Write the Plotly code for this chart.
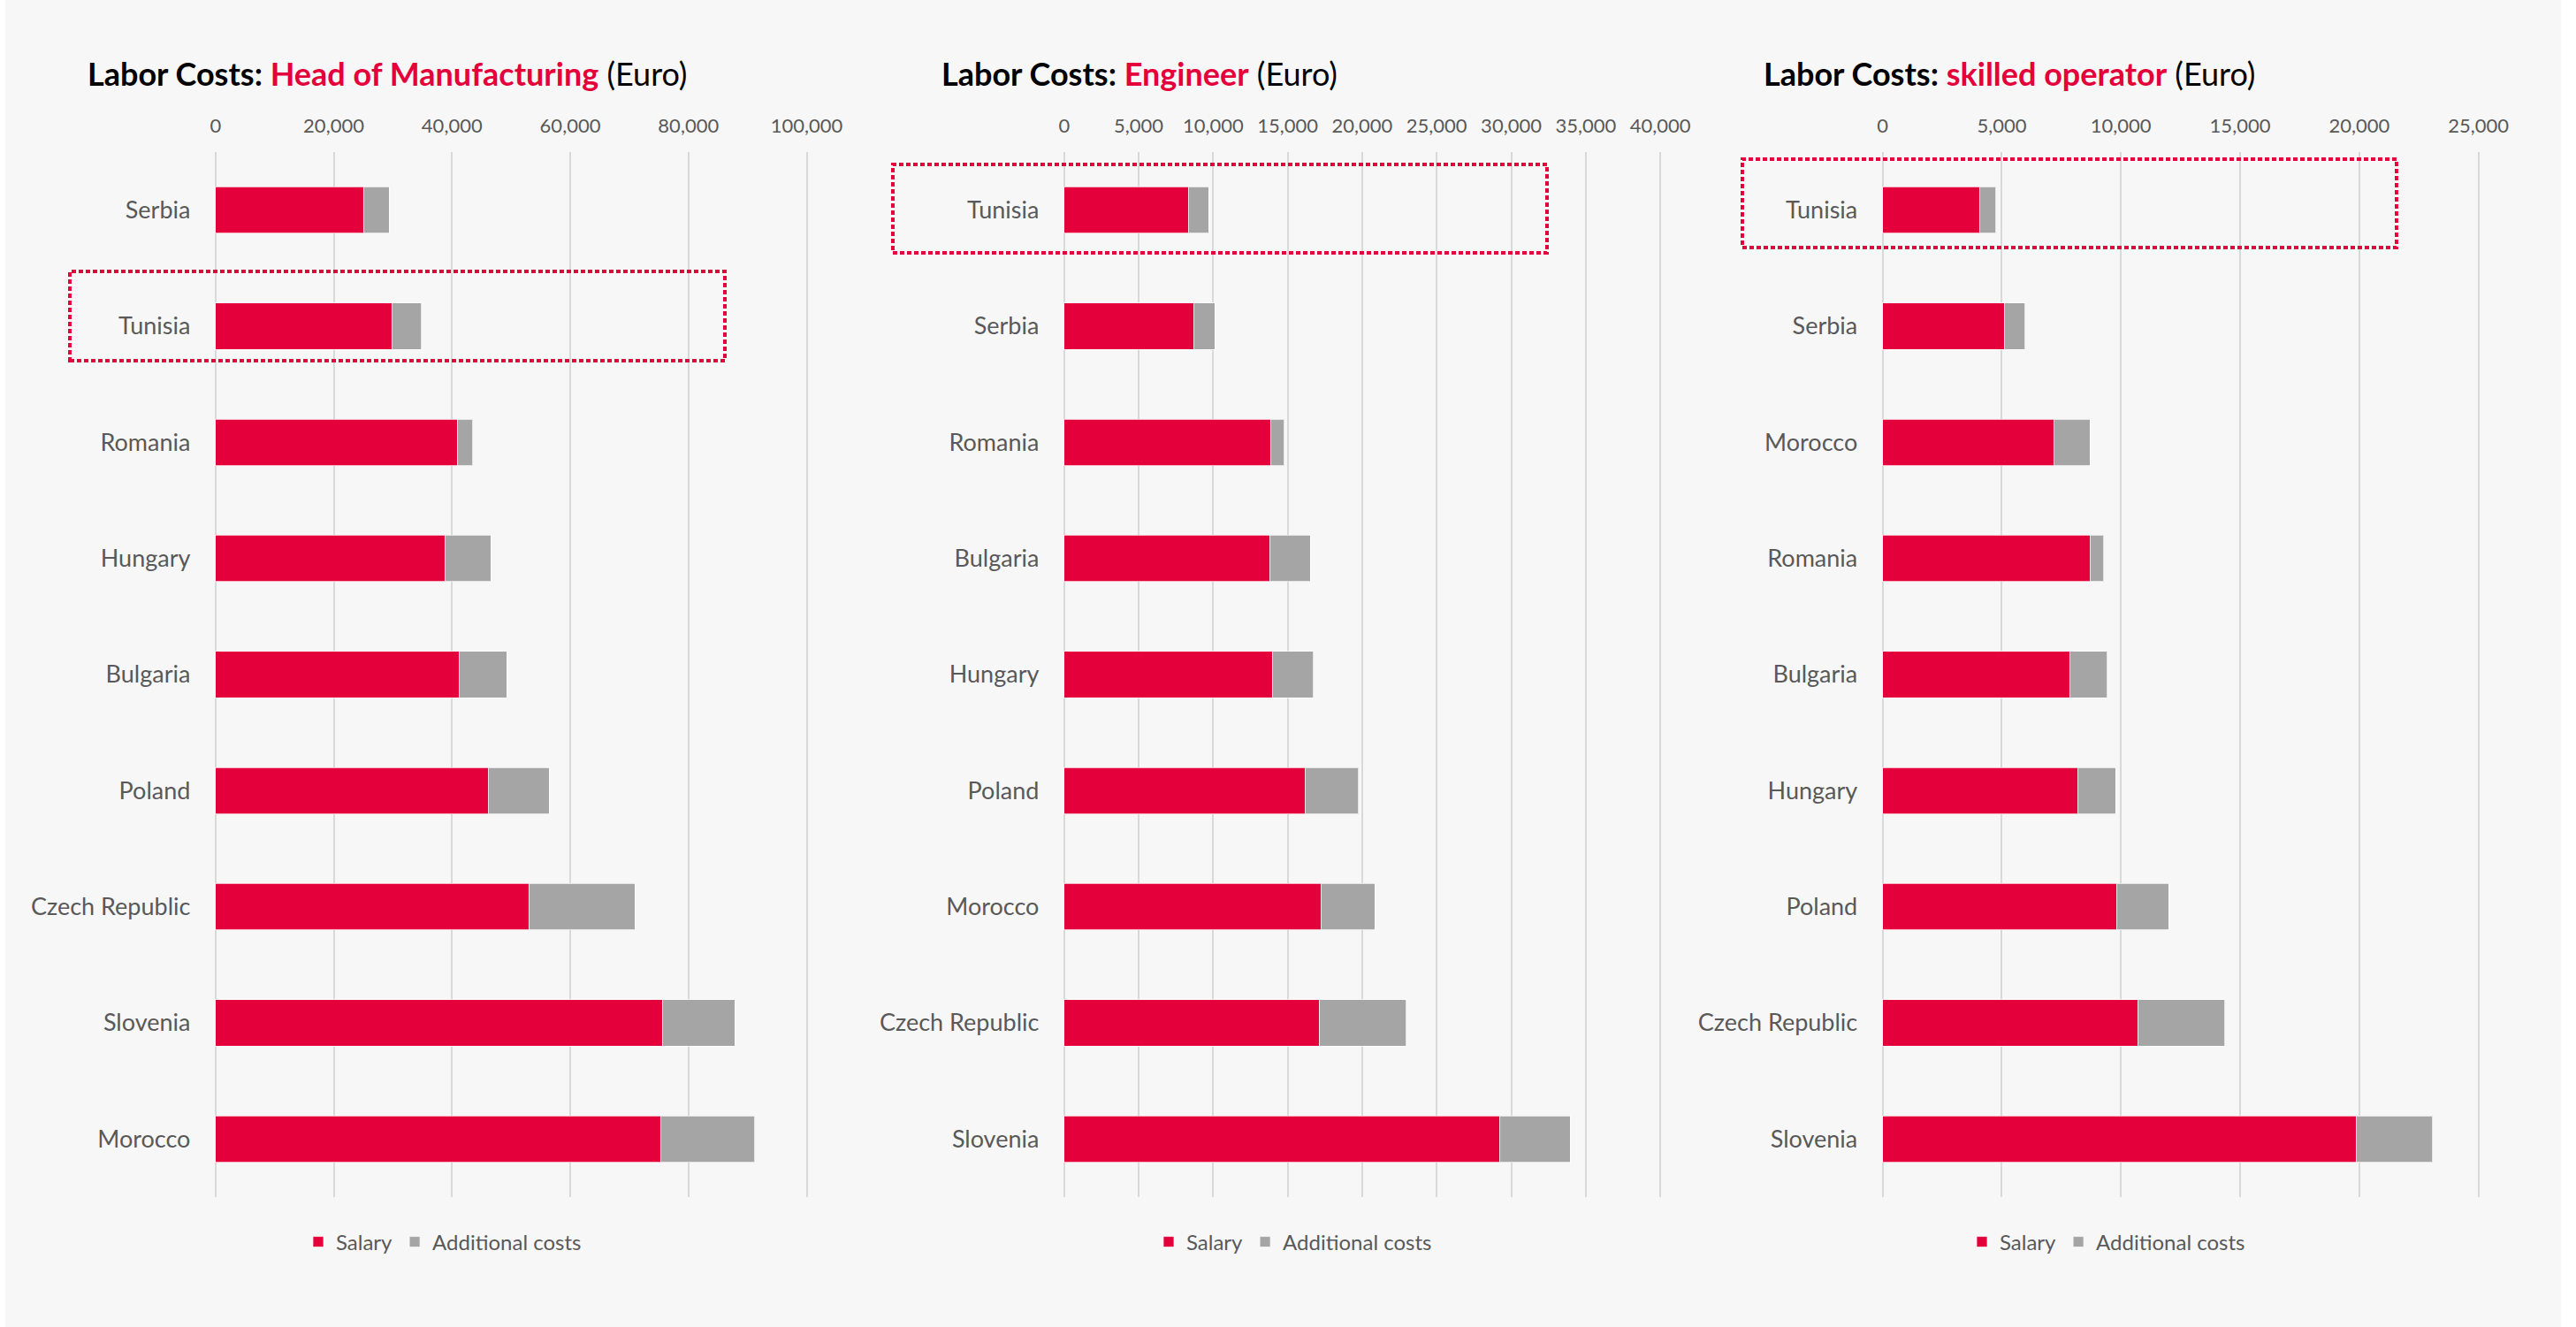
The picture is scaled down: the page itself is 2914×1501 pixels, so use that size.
import plotly.graph_objects as go

W, H = 2914, 1501
RED = "#E4003A"
GREY = "#A5A5A5"
TXT = "#595959"
FONT = "Lato"

# ---------------- data ----------------
hm_countries = ["Serbia", "Tunisia", "Romania", "Hungary", "Bulgaria", "Poland",
                "Czech Republic", "Slovenia", "Morocco"]
hm_salary = [25100, 29900, 41000, 38900, 41200, 46100, 53100, 75700, 75300]
hm_additional = [4250, 4950, 2550, 7650, 8050, 10350, 17850, 12150, 15900]

eng_countries = ["Tunisia", "Serbia", "Romania", "Bulgaria", "Hungary", "Poland",
                 "Morocco", "Czech Republic", "Slovenia"]
eng_salary = [8330, 8700, 13890, 13820, 14000, 16150, 17220, 17150, 29220]
eng_additional = [1370, 1410, 890, 2700, 2740, 3590, 3630, 5810, 4740]

op_countries = ["Tunisia", "Serbia", "Morocco", "Romania", "Bulgaria", "Hungary",
                "Poland", "Czech Republic", "Slovenia"]
op_salary = [4070, 5120, 7190, 8710, 7870, 8190, 9820, 10730, 19880]
op_additional = [680, 860, 1510, 560, 1560, 1580, 2190, 3630, 3190]

titles = ["Head of Manufacturing", "Engineer", "skilled operator"]
axis_max = [100000, 40000, 25000]
axis_dtick = [20000, 5000, 5000]
series_names = ["Salary", "Additional costs"]

panels = [
    (hm_countries, hm_salary, hm_additional),
    (eng_countries, eng_salary, eng_additional),
    (op_countries, op_salary, op_additional),
]

# ---------------- layout geometry (pixels) ----------------
px_x = [(243.75, 912.5), (1203.75, 1878.1), (2129.6, 2803.6)]
y_top, y_bot = 172, 1354
title_x = [97, 1063, 1993]
legend_x = [340, 1302, 2222]
boxes = [(79, 307, 820, 408), (1010, 186, 1750, 286), (1971, 180, 2711, 280)]


def fx(p):
    return p / W


def fy(p):
    return 1 - p / H


fig = go.Figure()
legend_ids = ["legend", "legend2", "legend3"]

for i, (cats, sal, add) in enumerate(panels):
    xa = "x" if i == 0 else f"x{i+1}"
    ya = "y" if i == 0 else f"y{i+1}"
    for name, vals, col in [(series_names[0], sal, RED), (series_names[1], add, GREY)]:
        fig.add_trace(go.Bar(
            y=cats, x=vals, name=name, orientation="h",
            marker=dict(color=col, line=dict(color="rgba(255,255,255,0.7)", width=1)),
            xaxis=xa, yaxis=ya, legend=legend_ids[i], showlegend=True,
        ))

layout = dict(
    width=W, height=H, autosize=False,
    margin=dict(l=0, r=0, t=0, b=0, autoexpand=False),
    paper_bgcolor="white", plot_bgcolor="rgba(0,0,0,0)",
    barmode="stack", bargap=0.6,
    font=dict(family=FONT, color=TXT, size=20),
    shapes=[], annotations=[],
)

for i in range(3):
    xk = "xaxis" if i == 0 else f"xaxis{i+1}"
    yk = "yaxis" if i == 0 else f"yaxis{i+1}"
    ya = "y" if i == 0 else f"y{i+1}"
    xa = "x" if i == 0 else f"x{i+1}"
    pad = axis_max[i] * 0.002
    span = px_x[i][1] - px_x[i][0]
    padpx = span * 0.002
    layout[xk] = dict(
        domain=[fx(px_x[i][0] - padpx), fx(px_x[i][1] + padpx)], anchor=ya, side="top",
        range=[-pad, axis_max[i] + pad], dtick=axis_dtick[i], tick0=0, tickformat=",d",
        showgrid=True, gridcolor="#D9D9D9", gridwidth=2, zeroline=False,
        showline=False, ticks="", ticklabelstandoff=17, automargin=False,
        tickfont=dict(family=FONT, size=22, color=TXT), fixedrange=True,
    )
    layout[yk] = dict(
        domain=[fy(y_bot), fy(y_top)], anchor=xa, autorange="reversed",
        showgrid=False, zeroline=False, showline=False, ticks="", automargin=False,
        ticklabelstandoff=26, tickfont=dict(family=FONT, size=27, color=TXT),
        fixedrange=True,
    )
    layout[legend_ids[i]] = dict(
        orientation="h", x=fx(legend_x[i]), xanchor="left",
        y=fy(1405), yanchor="middle", bgcolor="rgba(0,0,0,0)",
        font=dict(family=FONT, size=24, color=TXT), traceorder="normal",
        itemclick=False, itemdoubleclick=False,
    )
    layout["annotations"].append(dict(
        xref="paper", yref="paper", x=fx(title_x[i]), y=fy(83),
        xanchor="left", yanchor="middle", showarrow=False,
        text=(f"<b>Labor Costs: </b><b><span style='color:{RED}'>{titles[i]}</span></b>"
              f"<span style='color:black'> (Euro)</span>"),
        font=dict(family=FONT, size=36, color="black"),
    ))
    x0, y0, x1, y1 = boxes[i]
    layout["shapes"].append(dict(
        type="rect", xref="paper", yref="paper",
        x0=fx(x0), x1=fx(x1), y0=fy(y1), y1=fy(y0),
        line=dict(color=RED, width=4, dash="5px,3px"), fillcolor="rgba(0,0,0,0)",
        layer="above",
    ))

# light grey chart background
layout["shapes"].insert(0, dict(
    type="rect", xref="paper", yref="paper", x0=fx(6), x1=fx(2897), y0=0, y1=1,
    line=dict(width=0), fillcolor="#F7F7F7", layer="below",
))

fig.update_layout(**layout)
fig.write_html(
    "out.html",
    config={"responsive": False, "displayModeBar": False},
    post_script="document.body.style.margin='0';document.body.style.overflow='hidden';",
)
